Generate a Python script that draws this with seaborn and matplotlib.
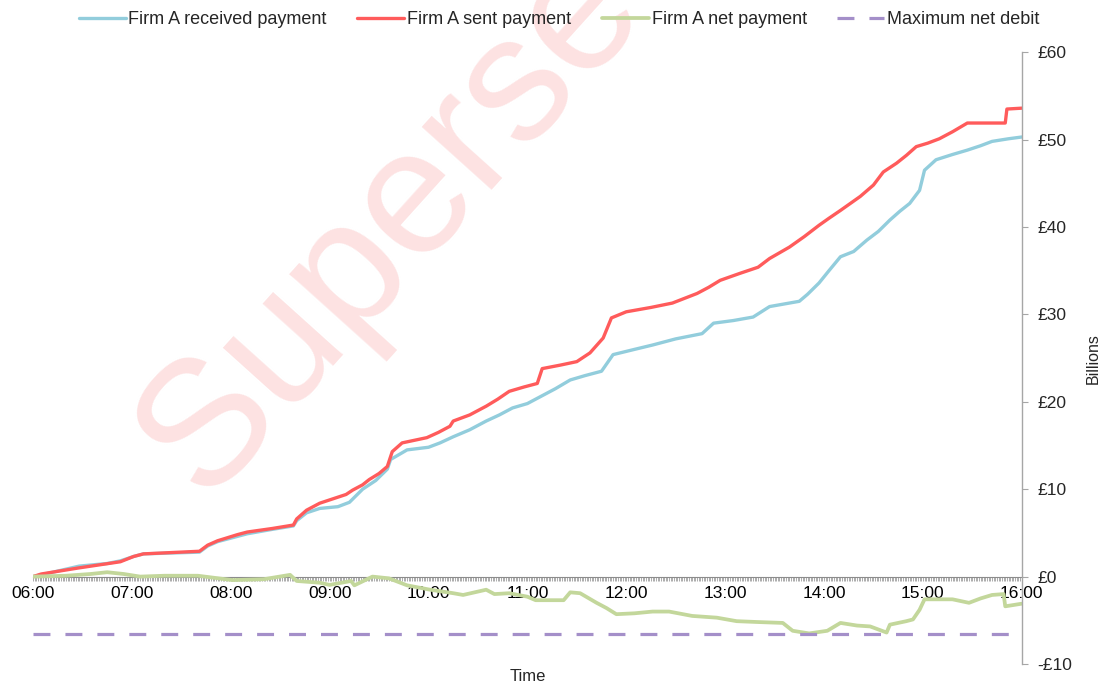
import pandas as pd
import numpy as np
import matplotlib
matplotlib.use('Agg')
import matplotlib.pyplot as plt
from matplotlib.ticker import MultipleLocator
import seaborn as sns

# cumulative payments (GBP billions)
sent_times = ['06:00', '06:05', '06:28', '06:53', '07:01', '07:07', '07:41', '07:46', '07:52',
              '08:04', '08:10', '08:25', '08:38', '08:40', '08:46', '08:54', '09:02', '09:10',
              '09:14', '09:20', '09:24', '09:30', '09:35', '09:38', '09:44', '09:59', '10:06',
              '10:13', '10:15', '10:25', '10:35', '10:42', '10:49', '10:58', '11:06', '11:09',
              '11:20', '11:30', '11:38', '11:46', '11:51', '12:00', '12:15', '12:28', '12:43',
              '12:50', '12:57', '13:09', '13:20', '13:27', '13:39', '13:48', '13:57', '14:03',
              '14:10', '14:16', '14:22', '14:30', '14:36', '14:44', '14:50', '14:56', '15:03',
              '15:10', '15:18', '15:27', '15:50', '15:51', '16:00']
sent_vals = [0.0, 0.3, 1.0, 1.7, 2.3, 2.6, 2.9, 3.6, 4.1,
             4.8, 5.1, 5.5, 5.9, 6.6, 7.6, 8.4, 8.9, 9.4,
             9.9, 10.5, 11.1, 11.8, 12.6, 14.3, 15.3, 15.9, 16.5,
             17.2, 17.8, 18.5, 19.5, 20.3, 21.2, 21.7, 22.1, 23.8,
             24.2, 24.6, 25.6, 27.3, 29.6, 30.3, 30.8, 31.3, 32.4,
             33.1, 33.9, 34.7, 35.4, 36.4, 37.7, 38.9, 40.2, 41.0,
             41.9, 42.7, 43.5, 44.8, 46.3, 47.3, 48.2, 49.2, 49.6,
             50.1, 50.9, 51.9, 51.9, 53.5, 53.6]

recv_times = ['06:00', '06:05', '06:28', '06:45', '06:53', '07:01', '07:07', '07:41', '07:46',
              '07:52', '08:04', '08:10', '08:25', '08:38', '08:40', '08:46', '08:54', '09:05',
              '09:12', '09:20', '09:28', '09:35', '09:37', '09:47', '10:00', '10:07', '10:15',
              '10:25', '10:35', '10:43', '10:51', '11:00', '11:08', '11:17', '11:26', '11:35',
              '11:45', '11:52', '12:05', '12:16', '12:30', '12:46', '12:53', '13:05', '13:17',
              '13:27', '13:45', '13:50', '13:57', '14:03', '14:10', '14:18', '14:26', '14:33',
              '14:40', '14:46', '14:52', '14:58', '15:01', '15:08', '15:18', '15:27', '15:35',
              '15:42', '15:52', '16:00']
recv_vals = [0.0, 0.2, 1.2, 1.5, 1.8, 2.3, 2.6, 2.8, 3.5,
             4.0, 4.6, 4.9, 5.4, 5.8, 6.4, 7.3, 7.8, 8.0,
             8.5, 10.0, 11.0, 12.3, 13.4, 14.5, 14.8, 15.3, 16.0,
             16.8, 17.8, 18.5, 19.3, 19.8, 20.6, 21.5, 22.5, 23.0,
             23.5, 25.4, 26.0, 26.5, 27.2, 27.8, 29.0, 29.3, 29.7,
             30.9, 31.5, 32.3, 33.6, 35.0, 36.6, 37.2, 38.5, 39.5,
             40.8, 41.8, 42.7, 44.2, 46.5, 47.7, 48.3, 48.8, 49.3,
             49.8, 50.1, 50.3]

net_times = ['06:00', '06:20', '06:35', '06:45', '06:55', '07:05', '07:20', '07:40', '08:01',
             '08:20', '08:36', '08:40', '08:54', '09:00', '09:13', '09:15', '09:26', '09:36',
             '09:47', '10:01', '10:15', '10:21', '10:35', '10:40', '10:49', '11:00', '11:05',
             '11:22', '11:26', '11:32', '11:42', '11:48', '11:54', '12:05', '12:16', '12:26',
             '12:40', '12:55', '13:07', '13:20', '13:35', '13:41', '13:51', '14:02', '14:10',
             '14:20', '14:28', '14:38', '14:40', '14:50', '14:54', '14:58', '15:01', '15:18',
             '15:28', '15:35', '15:42', '15:49', '15:50', '16:00']
net_vals = [0.0, 0.1, 0.3, 0.5, 0.3, 0.0, 0.1, 0.1, -0.4,
            -0.3, 0.2, -0.5, -0.7, -0.95, -0.5, -1.0, 0.0, -0.2,
            -1.0, -1.5, -1.9, -2.1, -1.5, -2.0, -1.9, -2.3, -2.7,
            -2.7, -1.8, -1.9, -3.0, -3.6, -4.3, -4.2, -4.0, -4.0,
            -4.5, -4.7, -5.1, -5.2, -5.3, -6.2, -6.5, -6.2, -5.3,
            -5.6, -5.7, -6.4, -5.5, -5.1, -4.9, -3.8, -2.6, -2.6,
            -3.0, -2.5, -2.1, -2.0, -3.4, -3.1]

max_net_debit = -6.6

x_ticks = list(range(6, 17))
x_labels = ['06:00', '07:00', '08:00', '09:00', '10:00', '11:00',
            '12:00', '13:00', '14:00', '15:00', '16:00']
y_ticks = [-10, 0, 10, 20, 30, 40, 50, 60]
y_labels = ['-£10', '£0', '£10', '£20', '£30', '£40', '£50', '£60']


def to_hours(times):
    return [int(t[:2]) + int(t[3:]) / 60 for t in times]


sent = pd.DataFrame({'t': to_hours(sent_times), 'v': sent_vals})
recv = pd.DataFrame({'t': to_hours(recv_times), 'v': recv_vals})
net = pd.DataFrame({'t': to_hours(net_times), 'v': net_vals})
debit = pd.DataFrame({'t': [6, 16], 'v': [max_net_debit, max_net_debit]})

sns.set_theme(style='white')
plt.rcParams['font.family'] = ['Liberation Sans', 'DejaVu Sans']

c_recv = '#92cddc'
c_sent = '#ff5b5b'
c_net = '#c3d79b'
c_debit = '#a48fc9'

fig = plt.figure(figsize=(11.01, 6.82), dpi=100)
ax = fig.add_axes([0.030, 0.0264, 0.898, 0.897])
ax.patch.set_alpha(0)

# watermark
ax.text(0.1853, 0.267, 'Superseded', transform=fig.transFigure, fontsize=128,
        rotation=48, rotation_mode='anchor', ha='left', va='baseline',
        color='#fde2e2', zorder=0, clip_on=False)

sns.lineplot(data=recv, x='t', y='v', ax=ax, color=c_recv, lw=2.4,
             label='Firm A received payment')
sns.lineplot(data=sent, x='t', y='v', ax=ax, color=c_sent, lw=2.4,
             label='Firm A sent payment')
sns.lineplot(data=net, x='t', y='v', ax=ax, color=c_net, lw=2.7,
             label='Firm A net payment')
sns.lineplot(data=debit, x='t', y='v', ax=ax, color=c_debit, lw=2.3,
             label='Maximum net debit')
ax.lines[-1].set_dashes((5.3, 4.7))

ax.set_xlim(6, 16)
ax.set_ylim(-10, 60)

for s in ['top', 'left']:
    ax.spines[s].set_visible(False)
ax.spines['bottom'].set_position(('data', 0))
ax.spines['bottom'].set_color('#8c8c8c')
ax.spines['bottom'].set_linewidth(0.8)
ax.spines['bottom'].set_zorder(1)
ax.spines['right'].set_color('#a6a6a6')
ax.spines['right'].set_linewidth(1.0)

ax.set_xticks(x_ticks)
ax.set_xticklabels(x_labels)
ax.xaxis.set_minor_locator(MultipleLocator(1 / 60))
ax.tick_params(axis='x', which='both', direction='out', length=3, width=0.5,
               color='#8c8c8c', bottom=True, labelsize=12.5, pad=4, labelcolor='black')

ax.yaxis.tick_right()
ax.set_yticks(y_ticks)
ax.set_yticklabels(y_labels)
ax.tick_params(axis='y', direction='out', length=4, width=0.8, color='#a6a6a6',
               right=True, labelsize=12.5, pad=7)

ax.set_xlabel('Time', fontsize=12)
ax.xaxis.set_label_coords(0.5, -0.008)
ax.set_ylabel('Billions', fontsize=11.5, labelpad=10)
ax.yaxis.set_label_position('right')

handles, labels = ax.get_legend_handles_labels()
ax.get_legend().remove()
fig.legend(handles, labels, loc='center', bbox_to_anchor=(559 / 1101, 0.971),
           ncol=4, frameon=False, fontsize=13, handlelength=2.6,
           handletextpad=0.15, columnspacing=1.7)

fig.savefig('out.png', dpi=100)
plt.close(fig)
